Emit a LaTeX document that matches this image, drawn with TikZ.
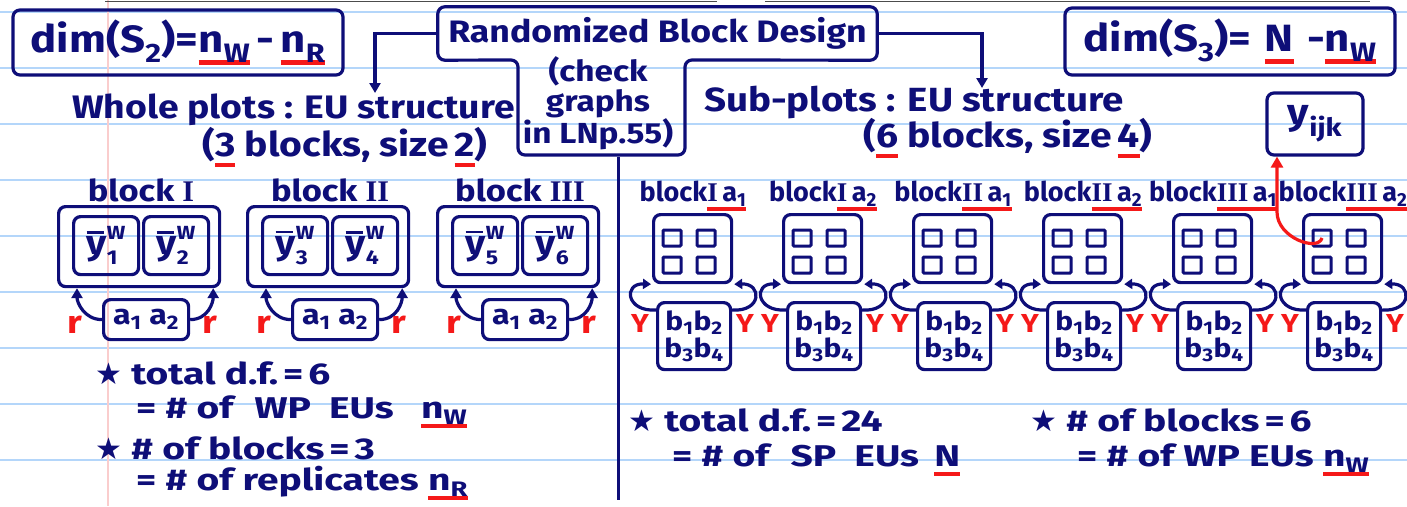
\documentclass[tikz,border=0pt]{standalone}
\usepackage{fontspec}
\setmainfont{Fira Sans}[FakeStretch=1.15]
\newfontfamily\plainfs{Fira Sans}
\newfontfamily\widefs{Fira Sans}[FakeStretch=1.3]
\newfontfamily\dejavu{DejaVu Sans}
\newfontfamily\serifr{Liberation Serif}
\usetikzlibrary{arrows.meta}
\definecolor{ink}{RGB}{14,14,120}
\definecolor{mark}{RGB}{245,25,25}
\definecolor{ruled}{RGB}{180,214,250}
\definecolor{margin}{RGB}{250,205,205}
\newsavebox\ulbox
\newcommand\rul[1]{\sbox\ulbox{#1}\rlap{\textcolor{mark}{\rule[-0.32em]{\wd\ulbox}{0.13em}}}\usebox\ulbox}
\newcommand\dn[1]{\textsubscript{#1}}
\newcommand\starmark{{\dejavu ★}}
\newcommand\rom[1]{{\serifr\bfseries #1}}
\newcommand\ybw[1]{\rlap{\rule[0.62em]{0.5em}{0.08em}}y\makebox[0.55em][l]{\rlap{\raisebox{0.45em}{\fontsize{19}{19}\selectfont W}}\raisebox{-0.3em}{\fontsize{20}{20}\selectfont #1}}}
\newcommand\fs[1]{\fontsize{#1}{#1}\selectfont\bfseries}
\begin{document}
\begin{tikzpicture}[x=1pt,y=-1pt,
  bx/.style={draw=ink,line width=3.2pt,rounded corners=7pt,text=ink,inner sep=0pt},
  tx/.style={text=ink,inner sep=0pt},
  arr/.style={draw=ink,line width=3.2pt,-{Triangle[length=10pt,width=11pt]}},
  loop/.style={draw=ink,line width=3.2pt,-{Triangle[length=8pt,width=10pt]}},
  redarr/.style={draw=mark,line width=3.2pt,-{Triangle[length=11pt,width=12pt]}},
  sq/.style={draw=ink,line width=3pt,minimum width=18pt,minimum height=16pt,inner sep=0pt,rounded corners=1pt},
  redtx/.style={text=mark,inner sep=0pt}
]
\useasboundingbox (0,0) rectangle (1407,506);
\fill[white] (0,0) rectangle (1407,506);
\foreach \yy in {12,68,...,460} \draw[ruled,line width=1.6pt] (0,\yy) -- (1407,\yy);
\draw[margin,line width=1.3pt] (108,0) -- (108,506);
\draw[gray!60!black,line width=1.2pt] (105,1.5) -- (717,1.5) (765,1.5) -- (1370,1.5);

% top boxes
\node[bx,minimum width=330,minimum height=65] (d2) at (178,42.5) {\fs{38}dim(S\dn{2})=\rul{n\dn{W}}\,-\,\rul{n\dn{R}}};
\node[bx,minimum width=330,minimum height=67] (d3) at (1230,41.5) {\fs{38}dim(S\dn{3})=\hspace{0.35em}\rul{N}\hspace{0.35em}-\rul{n\dn{W}}};

% randomized block design
\node[tx,minimum width=439,minimum height=53] (rbd) at (657.5,33.5) {\fs{31}Randomized Block Design};
\node[tx,align=center,font=\fontsize{29}{30}\selectfont\bfseries] (chk) at (598,103) {(check\\graphs\\in LNp.55)};
\draw[bx] (rbd.south west) -- (rbd.north west) -- (rbd.north east) -- (rbd.south east) -- (685,60) -- (685,155) -- (518,155) -- (518,60) -- cycle;

\node[tx,anchor=west] (wp) at (72,110) {\fs{32.5}Whole plots : EU structure};
\node[tx] (wp2) at (345,147) {\fs{34}(\rul{3} blocks, size\,\rul{2})};
\node[tx,anchor=west] (sp) at (704,103) {\fs{33.5}Sub-plots : EU structure};
\node[tx] (sp2) at (1008,138) {\fs{34}(\rul{6} blocks, size\,\rul{4})};
\coordinate (wpa) at (375,93);
\coordinate (spa) at (982,88);
\draw[arr] (rbd.west) -| (wpa);
\draw[arr] (rbd.east) -| (spa);

\node[bx,minimum width=96,minimum height=62] (yijk) at (1315,124) {\fs{36}y\dn{ijk}};

\draw[ink,line width=3pt] (618,157) -- (618,500);

% whole plot blocks
\foreach \bx/\lab/\ia/\ib [count=\i] in {57/I/1/2,246/II/3/4,436/III/5/6}{
  \node[tx] (wl\i) at (\bx+84,190) {\fs{30}block \rom{\lab}};
  \node[bx,minimum width=161,minimum height=80,anchor=north west] (wo\i) at (\bx,205) {};
  \node[bx,minimum width=65,minimum height=58,anchor=north west] (wi\i a) at (\bx+15,215) {\fs{34}\ybw{\ia}};
  \node[bx,minimum width=65,minimum height=58,anchor=north west] (wi\i b) at (\bx+85,215) {\fs{34}\ybw{\ib}};
  \node[bx,minimum width=85,minimum height=40,anchor=north west] (wa\i) at (\bx+45,298) {\fs{28}a\dn{1} a\dn{2}};
  \draw[arr] (wa\i.west) .. controls +(-18,0) and +(0,14) .. ([xshift=20pt]wo\i.south west);
  \draw[arr] (wa\i.east) .. controls +(18,0) and +(0,14) .. ([xshift=-8pt]wo\i.south east);
  \node[redtx] (rl\i) at (\bx+18,325) {\fs{32}r};
  \node[redtx] (rr\i) at (\bx+153,325) {\fs{32}r};
}

% sub-plot blocks
\foreach \L/\lab/\k [count=\i] in {652/I/1,782/I/2,912/II/1,1042/II/2,1172/III/1,1302/III/2}{
  \node[tx] (sl\i) at (\L+41,196) {\plainfs\fs{27}block\rul{\rom{\lab}\,a\dn{\k}}};
  \node[bx,minimum width=78,minimum height=68,anchor=north west] (su\i) at (\L,213) {};
  \node[sq] (q\i a) at (\L+20,238) {};
  \node[sq] (q\i b) at (\L+54,238) {};
  \node[sq] (q\i c) at (\L+20,265) {};
  \node[sq] (q\i d) at (\L+54,265) {};
  \node[bx,minimum width=73,minimum height=67,anchor=north west,align=center,font=\fontsize{26}{27}\selectfont\bfseries] (sb\i) at (\L+4,301) {b\dn{1}b\dn{2}\\b\dn{3}b\dn{4}};
  \draw[loop] ([yshift=-9pt]sb\i.north west) .. controls +(-30,2) and +(-28,-1) .. ([xshift=-1pt]su\i.south west);
  \draw[loop] ([yshift=-9pt]sb\i.north east) .. controls +(30,2) and +(28,-1) .. ([xshift=1pt]su\i.south east);
  \node[redtx] (yl\i) at (\L-12,323) {\fs{26}Y};
  \node[redtx] (yr\i) at (\L+93,323) {\fs{26}Y};
}
\coordinate (bend) at (1277,212);
\draw[redarr] (q6a.center) .. controls +(-4,14) and +(0,26) .. (bend) -- ([xshift=-38pt]yijk.south);

% notes
\node[tx,anchor=west] (t1) at (95,373) {\widefs\fs{30}\starmark\ total d.f.\,=\,6};
\node[tx,anchor=west] (t2) at (136,412) {\widefs\fs{30}= \# of\hspace{0.4em} WP\hspace{0.3em} EUs\hspace{0.6em} \rul{n\dn{W}}};
\node[tx,anchor=west] (t3) at (95,448) {\widefs\fs{30}\starmark\ \# of blocks\,=\,3};
\node[tx,anchor=west] (t4) at (136,483) {\widefs\fs{30}= \# of replicates \rul{n\dn{R}}};
\node[tx,anchor=west] (t5) at (628,420) {\widefs\fs{30}\starmark\ total d.f.\,=\,24};
\node[tx,anchor=west] (t6) at (672,460) {\widefs\fs{30}= \# of\hspace{0.4em} SP\hspace{0.3em} EUs\hspace{0.2em} \rul{N}};
\node[tx,anchor=west] (t7) at (1030,420) {\widefs\fs{30}\starmark\ \# of blocks\,=\,6};
\node[tx,anchor=west] (t8) at (1077,460) {\widefs\fs{30}= \# of WP EUs \rul{n\dn{W}}};
\end{tikzpicture}
\end{document}
